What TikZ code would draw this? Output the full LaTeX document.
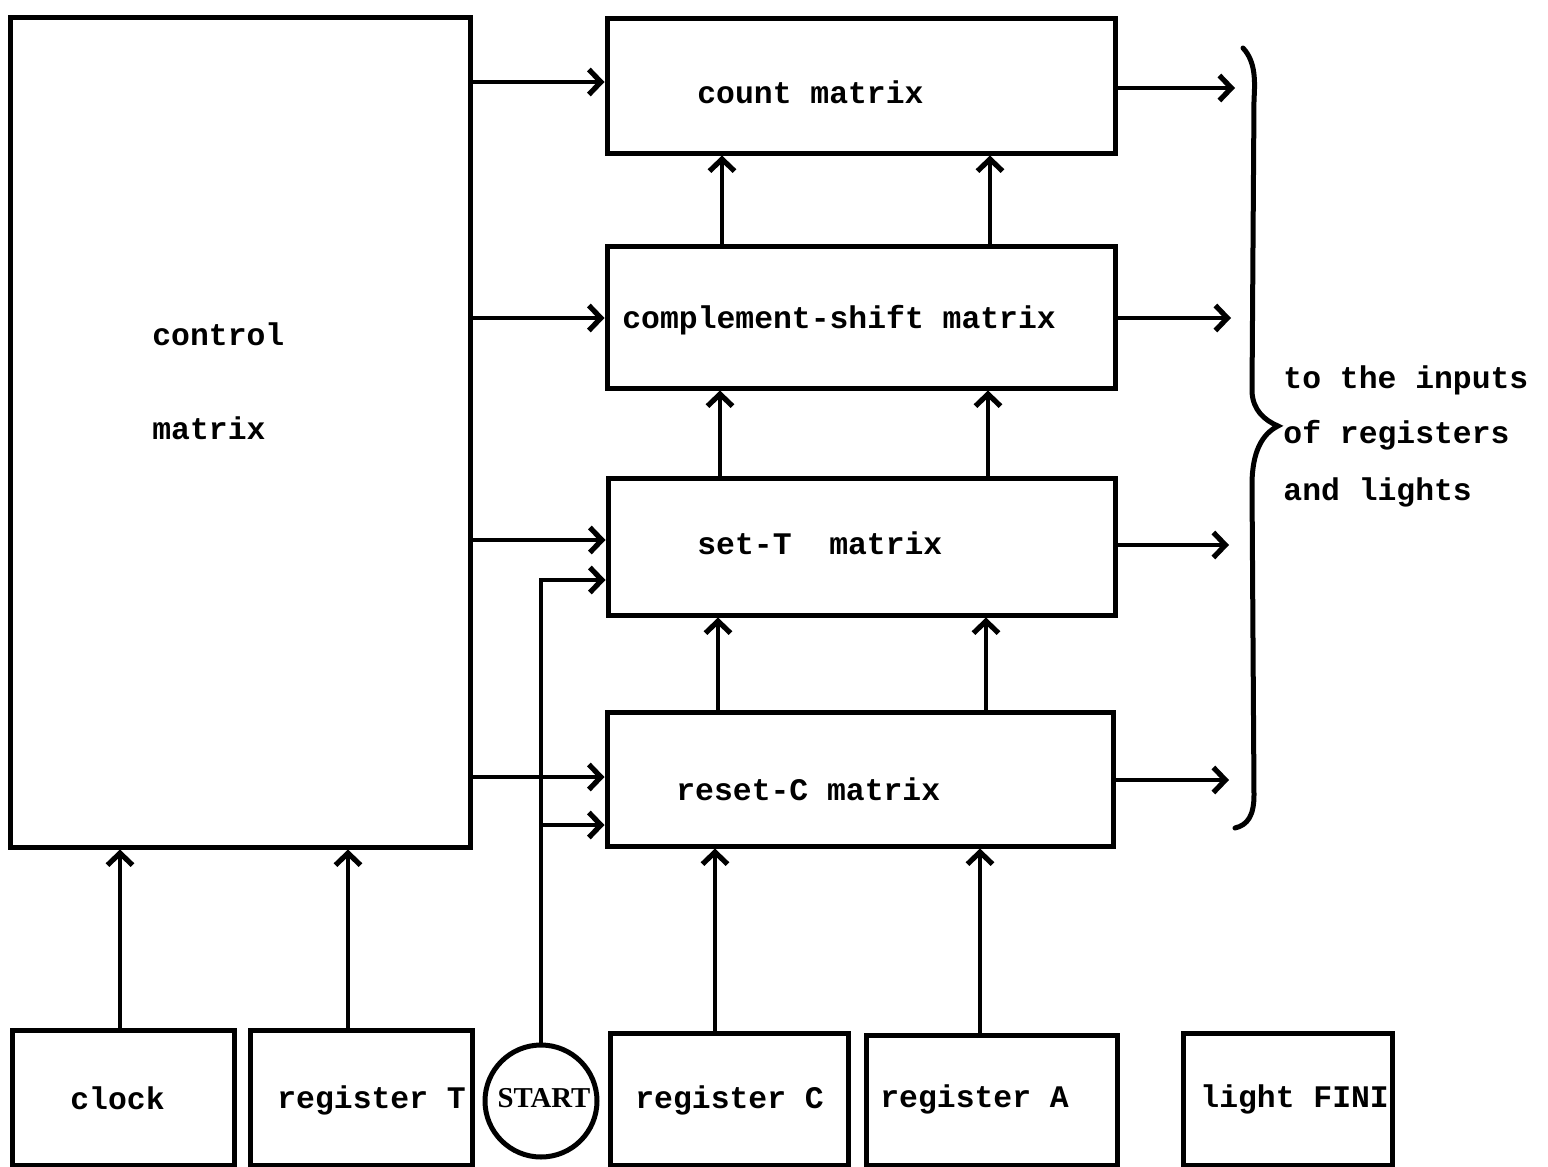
\documentclass[tikz,border=0pt]{standalone}
\usepackage{fontspec}
\newfontfamily\twfont{Liberation Mono}
\newfontfamily\serfont{Liberation Serif}
\usetikzlibrary{arrows.meta}
\tikzset{
  box/.style={draw, line width=2.5pt, rectangle, inner sep=0pt},
  lbl/.style={inner sep=0pt, anchor=mid west, font=\twfont\bfseries\fontsize{15.7}{18}\selectfont},
  arr/.style={line width=2.2pt, -{Straight Barb[length=6pt,width=12.5pt,line width=2.6pt]}},
  conn/.style={line width=2.2pt}
}
\begin{document}
\begin{tikzpicture}[x=0.5pt,y=-0.5pt]
\useasboundingbox (0,0) rectangle (1548,1167);
% blocks
\node[box, minimum width=230pt, minimum height=415pt] (ctrl) at (240,432) {};
\node[box, minimum width=254pt, minimum height=67.5pt] (count) at (861,85.5) {};
\node[box, minimum width=254pt, minimum height=71pt] (comp) at (861,317) {};
\node[box, minimum width=253.5pt, minimum height=68.5pt] (setT) at (861.5,546.5) {};
\node[box, minimum width=253pt, minimum height=67pt] (resetC) at (860,779) {};
\node[box, minimum width=111pt, minimum height=67.5pt] (clock) at (123,1097.5) {};
\node[box, minimum width=111pt, minimum height=67.5pt] (regT) at (361,1097.5) {};
\node[draw, circle, line width=2.5pt, minimum size=56pt, inner sep=0pt] (start) at (541,1101) {};
\node[box, minimum width=119pt, minimum height=66pt] (regC) at (729,1099) {};
\node[box, minimum width=125.5pt, minimum height=65pt] (regA) at (991.5,1100) {};
\node[box, minimum width=104.5pt, minimum height=66pt] (light) at (1287.5,1099) {};
% labels
\node[lbl] (t1) at (152,341) {control};
\node[lbl] (t2) at (152,435) {matrix};
\node[lbl] (t3) at (697,99) {count matrix};
\node[lbl] (t4) at (622,324) {complement-shift matrix};
\node[lbl] (t5) at (697,550) {set-T\ \ matrix};
\node[lbl] (t6) at (676,796) {reset-C matrix};
\node[lbl] (t7) at (1283,384) {to the inputs};
\node[lbl] (t8) at (1283,439) {of registers};
\node[lbl] (t9) at (1283,496) {and lights};
\node[lbl] (t10) at (70,1105) {clock};
\node[lbl] (t11) at (277,1104) {register T};
\node[inner sep=0pt, font=\serfont\bfseries\fontsize{14.4}{16}\selectfont] (t12) at (544,1098) {START};
\node[lbl] (t13) at (635,1104) {register C};
\node[lbl] (t14) at (880,1103) {register A};
\node[lbl] (t15) at (1200,1103) {light FINI};
% control -> matrices
\draw[arr] (ctrl.east |- 0,82) -- (count.west |- 0,82);
\draw[arr] (ctrl.east |- 0,318) -- (comp.west |- 0,318);
\draw[arr] (ctrl.east |- 0,540) -- (setT.west |- 0,540);
\draw[arr] (ctrl.east |- 0,777) -- (resetC.west |- 0,777);
% START lines
\draw[arr] (start.north) -- (start.north |- 0,580) -- (setT.west |- 0,580);
\draw[arr] (start.north |- 0,825) -- (resetC.west |- 0,825);
% vertical chain
\draw[arr] (resetC.north -| 718,0) -- (setT.south -| 718,0);
\draw[arr] (resetC.north -| 986,0) -- (setT.south -| 986,0);
\draw[arr] (setT.north -| 720,0) -- (comp.south -| 720,0);
\draw[arr] (setT.north -| 988,0) -- (comp.south -| 988,0);
\draw[arr] (comp.north -| 722,0) -- (count.south -| 722,0);
\draw[arr] (comp.north -| 990,0) -- (count.south -| 990,0);
% bottom inputs
\draw[arr] (clock.north -| 120,0) -- (ctrl.south -| 120,0);
\draw[arr] (regT.north -| 348,0) -- (ctrl.south -| 348,0);
\draw[arr] (regC.north -| 715,0) -- (resetC.south -| 715,0);
\draw[arr] (regA.north -| 980,0) -- (resetC.south -| 980,0);
% outputs
\coordinate (o1) at (1235,88);
\coordinate (o2) at (1231,318);
\coordinate (o3) at (1229,545);
\coordinate (o4) at (1229,780);
\draw[arr] (count.east |- o1) -- (o1);
\draw[arr] (comp.east |- o2) -- (o2);
\draw[arr] (setT.east |- o3) -- (o3);
\draw[arr] (resetC.east |- o4) -- (o4);
% brace
\draw[line width=2.5pt, line cap=round] (1243,48) .. controls (1256,62) and (1255,82) .. (1254,100)
  -- (1252,392) .. controls (1253,410) and (1264,420) .. (1278,426)
  .. controls (1262,434) and (1252,452) .. (1252,485)
  -- (1254,795) .. controls (1254,815) and (1248,825) .. (1235,828);
\end{tikzpicture}
\end{document}
